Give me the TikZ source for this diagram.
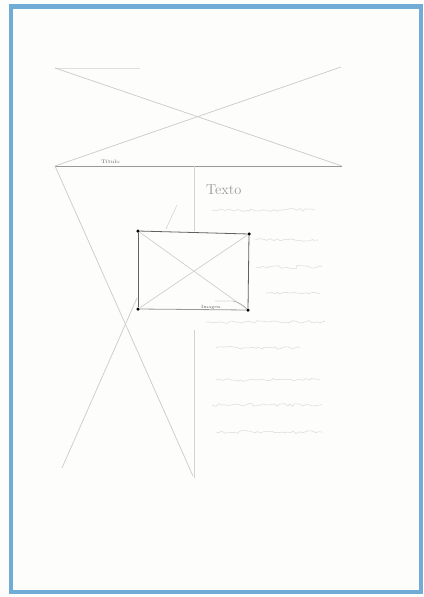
\documentclass[tikz,border=0pt]{standalone}
\usetikzlibrary{decorations.pathmorphing}
\definecolor{frameblue}{RGB}{112,172,214}
\definecolor{pencil}{RGB}{200,204,202}
\definecolor{pencilmid}{RGB}{150,154,152}
\definecolor{pencildark}{RGB}{95,98,98}
\definecolor{paper}{RGB}{253,253,251}
\tikzset{
  x=1pt, y=-1pt,
  faint/.style={draw=pencil, line width=0.7pt},
  midline/.style={draw=pencilmid, line width=0.8pt},
  darkline/.style={draw=pencildark, line width=0.8pt},
  corner/.style={circle, fill=black, inner sep=0pt, minimum size=3.5pt},
  scribble/.style={draw=pencil!70, line width=0.5pt, decorate,
    decoration={random steps, amplitude=1.5pt, segment length=3pt}},
  label/.style={inner sep=0pt, text=pencilmid, anchor=base west}
}
\begin{document}
\begin{tikzpicture}
\useasboundingbox (0,0) rectangle (423,597);
\fill[paper] (0,0) rectangle (423,597);
% blue frame
\draw[frameblue, line width=4.5pt] (11,6.5) rectangle (421,592);
\draw[frameblue, line width=2pt] (9.5,6.5) -- (9.5,592);

% top wireframe block
\coordinate (tl) at (55,68);
\coordinate (tr) at (341,67);
\coordinate (bl) at (55,166);
\coordinate (br) at (342,166);
\draw[faint, draw=pencil!60] (tl) -- (140,68);
\draw[faint] (tl) -- (br);
\draw[faint] (bl) -- (tr);
\draw[midline] (bl) -- (br);
\node[label, font=\tiny, text=pencildark] (title) at (101,163) {Título};

% vertical divider (interrupted by the image box)
\coordinate (vtop) at (194,166);
\coordinate (vmid1) at (194,231);
\coordinate (vmid2) at (194,330);
\coordinate (vbot) at (194,478);
\draw[faint, draw=pencil!85] (vtop) -- (vmid1);
\draw[faint, draw=pencil!85] (vmid2) -- (vbot);

% large inverted X on the left
\coordinate (xbot) at (62,468);
\draw[faint] (bl) -- (193,476);
\draw[faint] (xbot) -- (137,298);
\draw[faint, draw=pencil!70] (166,229) -- (177,205);

% image placeholder
\node[corner] (ia) at (138,231) {};
\node[corner] (ib) at (249,234) {};
\node[corner] (ic) at (138,309) {};
\node[corner] (id) at (248,310) {};
\draw[darkline] (ia) -- (ib) -- (id);
\draw[darkline] (ia) -- (ic);
\draw[midline] (ic) -- (id);
\draw[faint, draw=pencil!90] (ia) -- (id);
\draw[faint, draw=pencil!90] (ic) -- (ib);
\node[label, font=\fontsize{4.5}{5}\selectfont, text=pencildark] (img) at (201,308) {Imagen};
\draw[pencilmid, line width=0.4pt] (215,301) -- (233,301) to[bend left=15] (id);

% text column
\node[label, font=\Large, text=pencilmid] (texto) at (206,194) {Texto};
\foreach \y/\a/\b in {210/212/315, 240/255/318, 267/256/322, 293/266/320,
                      322/206/325, 348/216/300, 380/216/320, 405/212/322, 432/216/322}
  \draw[scribble] (\a,\y) -- (\b,\y);
\end{tikzpicture}
\end{document}
